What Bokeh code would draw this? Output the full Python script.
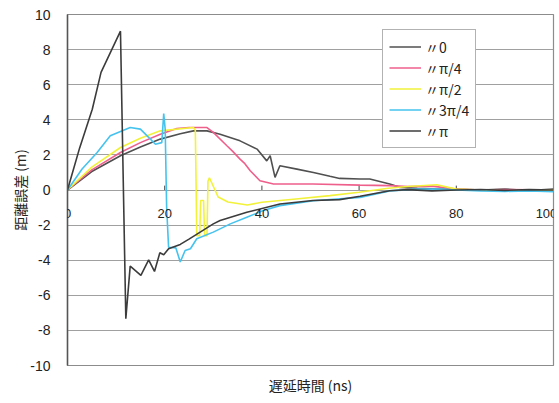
from bokeh.plotting import figure
from bokeh.models import Legend, LegendItem, FixedTicker, Range1d, LabelSet, ColumnDataSource
from bokeh.embed import file_html
from bokeh.resources import INLINE
from bokeh.core.properties import value

# ---- axis ticks ----
x_ticks = [0, 20, 40, 60, 80, 100]
x_tick_labels = ["0", "20", "40", "60", "80", "100"]
y_ticks = [-10, -8, -6, -4, -2, 0, 2, 4, 6, 8, 10]
y_tick_labels = ["-10", "-8", "-6", "-4", "-2", "0", "2", "4", "6", "8", "10"]

# ---- series (delay ns, range error m) ----
s0_x = [0, 5, 10.9, 15, 19.1, 23.2, 25.9, 28.7, 31.4, 35.5, 39, 41, 41.7, 42.7, 43.7, 47.2,
        50.6, 54, 56, 60.2, 62.2, 66.3, 68.4, 72, 76, 80, 85, 90, 95, 100]
s0_y = [0, 1.05, 1.95, 2.45, 2.9, 3.2, 3.37, 3.37, 3.18, 2.8, 2.33, 1.66, 1.95, 0.72, 1.38, 1.19,
        1.0, 0.78, 0.66, 0.63, 0.63, 0.34, 0.15, 0.1, 0.05, 0.05, 0.0, 0.05, -0.03, 0.05]

s1_x = [0, 5, 10.9, 15, 19.1, 22.5, 25, 28.7, 30, 32.8, 34, 35.5, 36.5, 37.6, 39.6, 42.4,
        50.5, 60.2, 66.3, 70, 75, 80, 85, 90, 100]
s1_y = [0, 1.15, 2.14, 2.7, 3.18, 3.5, 3.56, 3.56, 3.28, 2.52, 2.2, 1.76, 1.5, 1.1, 0.53, 0.34,
        0.34, 0.28, 0.25, 0.2, 0.22, 0.05, 0.0, 0.02, 0.0]

s2_x = [0, 5, 10.9, 15, 19.1, 25.9, 26.3, 26.6, 27.2, 27.4, 28.0, 28.2, 28.7, 28.9, 29.2, 31,
        33, 37, 40, 47, 54, 60, 66, 70, 76, 80, 85, 90, 100]
s2_y = [0, 1.3, 2.42, 2.95, 3.37, 3.56, 3.4, -2.6, -2.6, -0.6, -0.6, -2.6, -2.6, 0.5, 0.7, -0.4,
        -0.68, -0.85, -0.7, -0.51, -0.32, -0.13, 0.1, 0.2, 0.3, 0.05, 0.0, -0.05, 0.0]

s3_x = [0, 3, 6.1, 8.8, 12.9, 15, 16.7, 18.1, 19.4, 19.8, 20.1, 20.4, 20.8, 22.3, 23.2, 24.2,
        25.3, 26.6, 30, 33.5, 36.9, 40.3, 43.7, 50.6, 60.2, 66.3, 72, 77, 80, 85, 90, 95, 100]
s3_y = [0, 1.2, 2.14, 3.09, 3.56, 3.47, 3.0, 2.61, 2.7, 4.35, 3.47, -1.0, -3.26, -3.3, -4.1, -3.45,
        -3.35, -2.78, -2.4, -1.93, -1.55, -1.17, -0.89, -0.61, -0.42, -0.05, 0.05, 0.05, 0.0, -0.05, -0.08, -0.05, -0.1]

s4_x = [0, 2.5, 5.1, 6.9, 10.9, 12.0, 12.9, 15.1, 16.7, 17.9, 19.0, 19.8, 20.8, 23.2, 25, 27.3,
        30.0, 31.4, 36.9, 43.7, 50.5, 56, 60.2, 66.3, 70, 75, 80, 85, 90, 95, 100]
s4_y = [0, 2.4, 4.6, 6.7, 9.05, -7.33, -4.34, -4.87, -3.98, -4.64, -3.58, -3.69, -3.35, -3.1, -2.8, -2.4,
        -1.93, -1.74, -1.27, -0.8, -0.6, -0.55, -0.36, -0.04, 0.02, -0.05, 0.0, 0.03, -0.02, 0.02, 0.0]

series_names = ["〃0", "〃π/4", "〃π/2", "〃3π/4", "〃π"]
series_colors = ["#505050", "#ee5f8c", "#f2f23a", "#45c3ee", "#3c3c3c"]
series_x = [s0_x, s1_x, s2_x, s3_x, s4_x]
series_y = [s0_y, s1_y, s2_y, s3_y, s4_y]

p = figure(width=558, height=400, x_range=Range1d(0, 100), y_range=Range1d(-10, 10),
           output_backend="svg", toolbar_location=None,
           min_border_left=67, min_border_top=14, min_border_right=5, min_border_bottom=35)
p.background_fill_color = "white"
p.border_fill_color = "white"
p.outline_line_color = "#8c8c8c"
p.outline_line_width = 1.2

# y axis
p.yaxis.ticker = FixedTicker(ticks=y_ticks)
p.yaxis.major_label_overrides = dict(zip(y_ticks, y_tick_labels))
p.yaxis.major_tick_line_color = None
p.yaxis.minor_tick_line_color = None
p.yaxis.axis_line_color = "#555555"
p.yaxis.axis_line_width = 1.5
p.yaxis.major_label_standoff = 11
p.yaxis.major_label_text_font = "Liberation Sans"
p.yaxis.major_label_text_font_size = "14px"
p.yaxis.major_label_text_color = "#222222"
p.yaxis.axis_label = "距離誤差 (m)"
p.yaxis.axis_label_text_font = "Noto Sans CJK JP"
p.yaxis.axis_label_text_font_size = "14px"
p.yaxis.axis_label_text_font_style = "normal"
p.yaxis.axis_label_text_color = "#222222"
p.yaxis.axis_label_standoff = -3

# x axis (labels drawn at y=0 line)
p.xaxis.ticker = FixedTicker(ticks=[])
p.xaxis.major_label_text_font_size = "0px"
p.xaxis.major_label_standoff = 0
p.xaxis.major_tick_line_color = None
p.xaxis.minor_tick_line_color = None
p.xaxis.axis_line_color = "#8c8c8c"
p.xaxis.axis_label = "遅延時間 (ns)"
p.xaxis.axis_label_text_font = "Noto Sans CJK JP"
p.xaxis.axis_label_text_font_size = "14px"
p.xaxis.axis_label_text_font_style = "normal"
p.xaxis.axis_label_text_color = "#222222"
p.xaxis.axis_label_standoff = 9

p.xgrid.visible = False
p.ygrid.ticker = FixedTicker(ticks=y_ticks)
p.ygrid.grid_line_color = "#a0a0a0"
p.ygrid.grid_line_width = 1.2

# small tick marks on the y=0 axis
p.segment(x0=x_ticks[1:-1], y0=[0] * 4, x1=x_ticks[1:-1], y1=[0.25] * 4,
          line_color="#444444", line_width=1)

renderers = []
for xs, ys, c in zip(series_x, series_y, series_colors):
    r = p.line(xs, ys, line_color=c, line_width=1.6)
    renderers.append(r)

x_label_offsets = [0, 0, 0, 0, 0, -7]
xlab_src = ColumnDataSource(dict(x=x_ticks, y=[-1.35] * len(x_ticks), t=x_tick_labels,
                                 dx=x_label_offsets))
p.add_layout(LabelSet(x="x", y="y", text="t", x_offset="dx", source=xlab_src, text_align="center",
                      text_baseline="middle", text_font=value("Liberation Sans"),
                      text_font_size="13px", text_color="#222222"))

items = [LegendItem(label=n, renderers=[r]) for n, r in zip(series_names, renderers)]
legend = Legend(items=items, location=(315, 217))
legend.label_text_font = "Noto Sans CJK JP"
legend.label_text_font_size = "14px"
legend.label_text_color = "#222222"
legend.glyph_width = 32
legend.glyph_height = 21
legend.label_height = 21
legend.label_standoff = 4
legend.spacing = 0
legend.padding = 6
legend.margin = 0
legend.border_line_color = "#666666"
legend.border_line_width = 1.5
legend.background_fill_color = "white"
legend.background_fill_alpha = 1.0
p.add_layout(legend)

open("out.html", "w").write(file_html(p, INLINE))
